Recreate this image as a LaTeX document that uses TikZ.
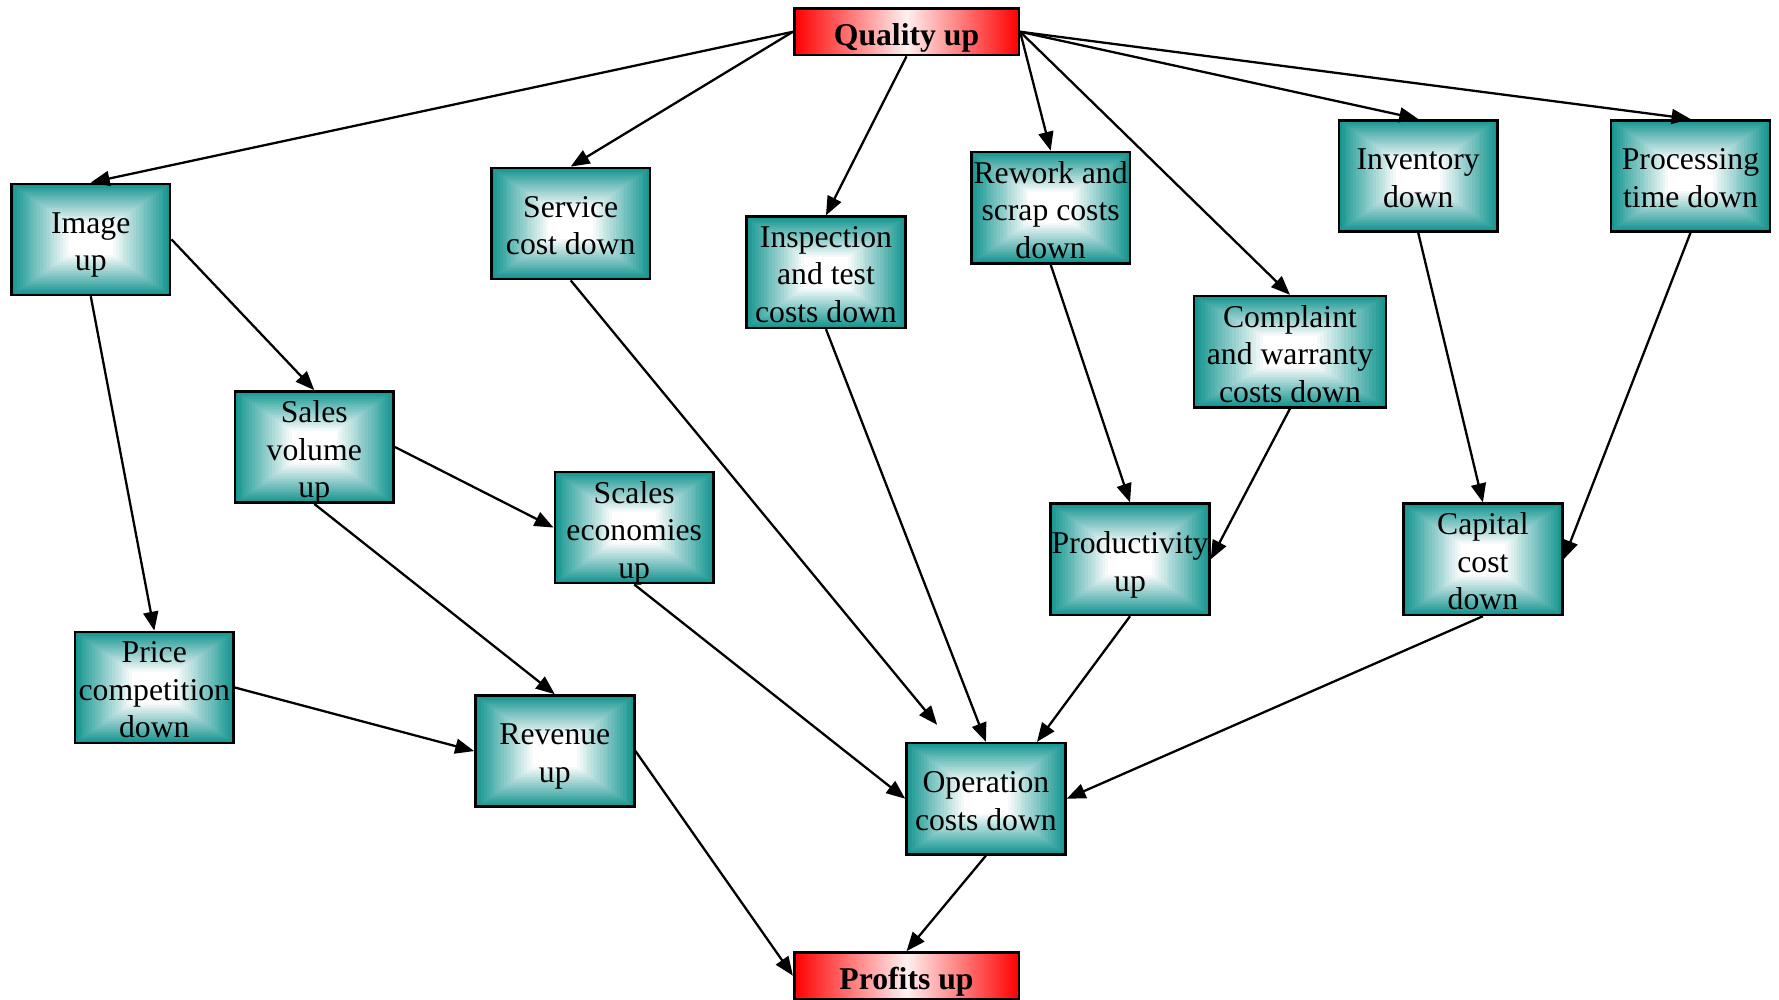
\documentclass[tikz,border=0pt]{standalone}
\usepackage{fontspec}
\setmainfont{Liberation Serif}
\usetikzlibrary{calc,arrows.meta}
\definecolor{tealc}{RGB}{22,150,145}
\definecolor{redc}{RGB}{255,0,0}
% a shaded box and its centred caption
\newcommand\tealnode[4][]{%
  \node[tealbox,#1] (#2) at (#3) {};
  \node[txt] (#2-text) at ($(#2.center)+(0,5.5)$) {#4};}
\newcommand\rednode[3]{%
  \node[redbox] (#1) at (#2) {};
  \node[txt,font=\fontsize{15.9}{18.8}\selectfont\bfseries] (#1-text) at ($(#1.center)+(0,4)$) {#3};}
\begin{document}
\begin{tikzpicture}[x=0.02cm,y=-0.02cm,
  txt/.style={font=\fontsize{15.9}{18.8}\selectfont, align=center, inner sep=0pt,
    execute at begin node={\rule{0pt}{13.2pt}},
    execute at end node={\rule[-4.2pt]{0pt}{0pt}}},
  tealbox/.style={draw=black, line width=1.3pt, minimum width=2.8cm, minimum height=1.96cm, inner sep=0pt,
    path picture={
      \foreach \i in {0,...,20}{
        \pgfmathsetmacro\mix{100*\i/20}
        \fill[white!\mix!tealc]
          ($(path picture bounding box.south west)!{0.36*\i/20}!(path picture bounding box.north east)$)
          rectangle
          ($(path picture bounding box.north east)!{0.36*\i/20}!(path picture bounding box.south west)$);
      }}},
  redbox/.style={draw=black, line width=1.3pt, minimum width=3.96cm, minimum height=0.82cm, inner sep=0pt,
    shading=axis, left color=redc, right color=redc, middle color=redc!6},
  link/.style={line width=1.15pt, -{Triangle[length=9.5pt,width=7.5pt]}}
]
\useasboundingbox (0,0) rectangle (1568,881);

% boxes
\rednode{q}{799,28}{Quality up}
\rednode{prof}{799,860}{Profits up}

\tealnode{img}{80,211}{Image\\up}
\tealnode{svc}{503,197}{Service\\cost down}
\tealnode{insp}{728,240}{Inspection\\and test\\costs down}
\tealnode{rew}{926,183}{Rework and\\scrap costs\\down}
\tealnode{inv}{1250,155}{Inventory\\down}
\tealnode{proc}{1490,155}{Processing\\time down}
\tealnode[minimum width=3.38cm]{comp}{1137,310}{Complaint\\and warranty\\costs down}
\tealnode{sales}{277,394}{Sales\\volume\\up}
\tealnode{scale}{559,465}{Scales\\economies\\up}
\tealnode{prod}{996,493}{Productivity\\up}
\tealnode{cap}{1307,493}{Capital\\cost\\down}
\tealnode{price}{136,606}{Price\\competition\\down}
\tealnode{rev}{489,662}{Revenue\\up}
\tealnode{op}{869,704}{Operation\\costs down}

% connectors
\draw[link] (q.west) -- (img.north);
\draw[link] (q.west) -- (svc.north);
\draw[link] (q.south) -- (insp.north);
\draw[link] (q.east) -- (rew.north);
\draw[link] (q.east) -- (comp.north);
\draw[link] (q.east) -- (inv.north);
\draw[link] (q.east) -- (proc.north);

\draw[link] (img.south) -- (price.north);
\draw[link] (img.east) -- (sales.north);
\draw[link] (svc.south) -- ($(op.north)+(-43,-15)$);
\draw[link] (insp.south) -- (op.north);
\draw[link] (rew.south) -- (prod.north);
\draw[link] (comp.south) -- (prod.east);
\draw[link] (inv.south) -- (cap.north);
\draw[link] (proc.south) -- (cap.east);

\draw[link] (sales.east) -- (scale.west);
\draw[link] (sales.south) -- (rev.north);
\draw[link] (scale.south) -- (op.west);
\draw[link] (prod.south) -- ($(op.north)+(45,0)$);
\draw[link] (cap.south) -- (op.east);
\draw[link] (price.east) -- (rev.west);
\draw[link] (rev.east) -- (prof.west);
\draw[link] (op.south) -- (prof.north);
\end{tikzpicture}
\end{document}
